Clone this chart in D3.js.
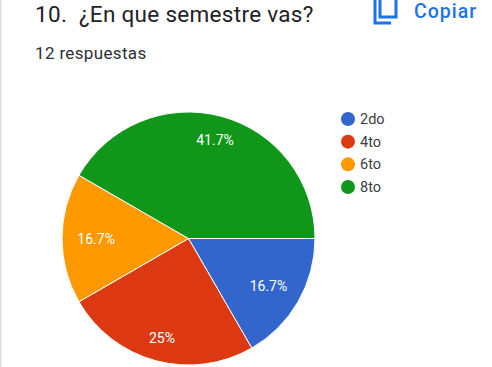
<!DOCTYPE html>
<html>
<head>
<meta charset="utf-8">
<script src="https://cdnjs.cloudflare.com/ajax/libs/d3/7.8.5/d3.min.js"></script>
<style>
  html,body{margin:0;padding:0;background:#fff;overflow:hidden}
  text{font-family:Roboto,sans-serif}
</style>
</head>
<body>
<div id="chart"></div>
<script>
const categories = ['2do','4to','6to','8to'];
const values = [2,3,2,5];
const pctLabels = ['16.7%','25%','16.7%','41.7%'];
const colors = ['#3366cc','#dc3912','#ff9900','#109618'];

const w = 492, h = 367;
const svg = d3.select('#chart').append('svg').attr('width',w).attr('height',h).style('display','block');

// left edge of the card
svg.append('rect').attr('width',1.5).attr('height',h).attr('fill','#dadce0');

// header
svg.append('text').attr('x',35).attr('y',22).attr('font-size',22.5).attr('letter-spacing',0.3)
  .attr('fill','#202124').style('white-space','pre').text('10.  ¿En que semestre vas?');
svg.append('text').attr('x',35).attr('y',58.5).attr('font-size',17).attr('letter-spacing',0.35)
  .attr('fill','#2d2f33').text('12 respuestas');

// copy button
svg.append('path').attr('d','M375 0V23H391 M380 0V17H396V0').attr('fill','none')
  .attr('stroke','#1a73e8').attr('stroke-width',3);
svg.append('text').attr('x',414).attr('y',18).attr('font-size',19.5).attr('font-weight',500)
  .attr('letter-spacing',1).attr('fill','#1a73e8').text('Copiar');

// pie, clockwise from 3 o'clock
const radius = 126.5;
const g = svg.append('g').attr('transform','translate(188.5,238.5)');
const pie = d3.pie().value(d=>d.value).sort(null).startAngle(Math.PI/2).endAngle(Math.PI*2.5)
  (categories.map((c,i)=>({cat:c,value:values[i],label:pctLabels[i]})));
const arc = d3.arc().innerRadius(0).outerRadius(radius);
const color = d3.scaleOrdinal().domain(categories).range(colors);

// narrow slices pull their label further in so it stays inside
function labelPos(d){
  const r = radius * (d.value / d3.sum(values) < 0.2 ? 0.73 : 0.81);
  return d3.arc().innerRadius(r).outerRadius(r).centroid(d);
}

g.selectAll('path').data(pie).enter().append('path')
  .attr('d',arc).attr('fill',d=>color(d.data.cat)).attr('stroke','#fff').attr('stroke-width',1);

g.selectAll('text').data(pie).enter().append('text')
  .attr('transform',d=>`translate(${labelPos(d)})`)
  .attr('text-anchor','middle').attr('dy','0.42em').attr('font-size',14)
  .attr('fill','#fff').text(d=>d.data.label);

// legend
const legendY = d3.scalePoint().domain(categories).range([119,187]);
const legend = svg.append('g').selectAll('g').data(categories).enter().append('g')
  .attr('transform',d=>`translate(0,${legendY(d)})`);
legend.append('circle').attr('cx',348).attr('r',7).attr('fill',d=>color(d));
legend.append('text').attr('x',360).attr('dy','0.35em').attr('font-size',14.5)
  .attr('fill','#3c4043').text(d=>d);
</script>
</body>
</html>
